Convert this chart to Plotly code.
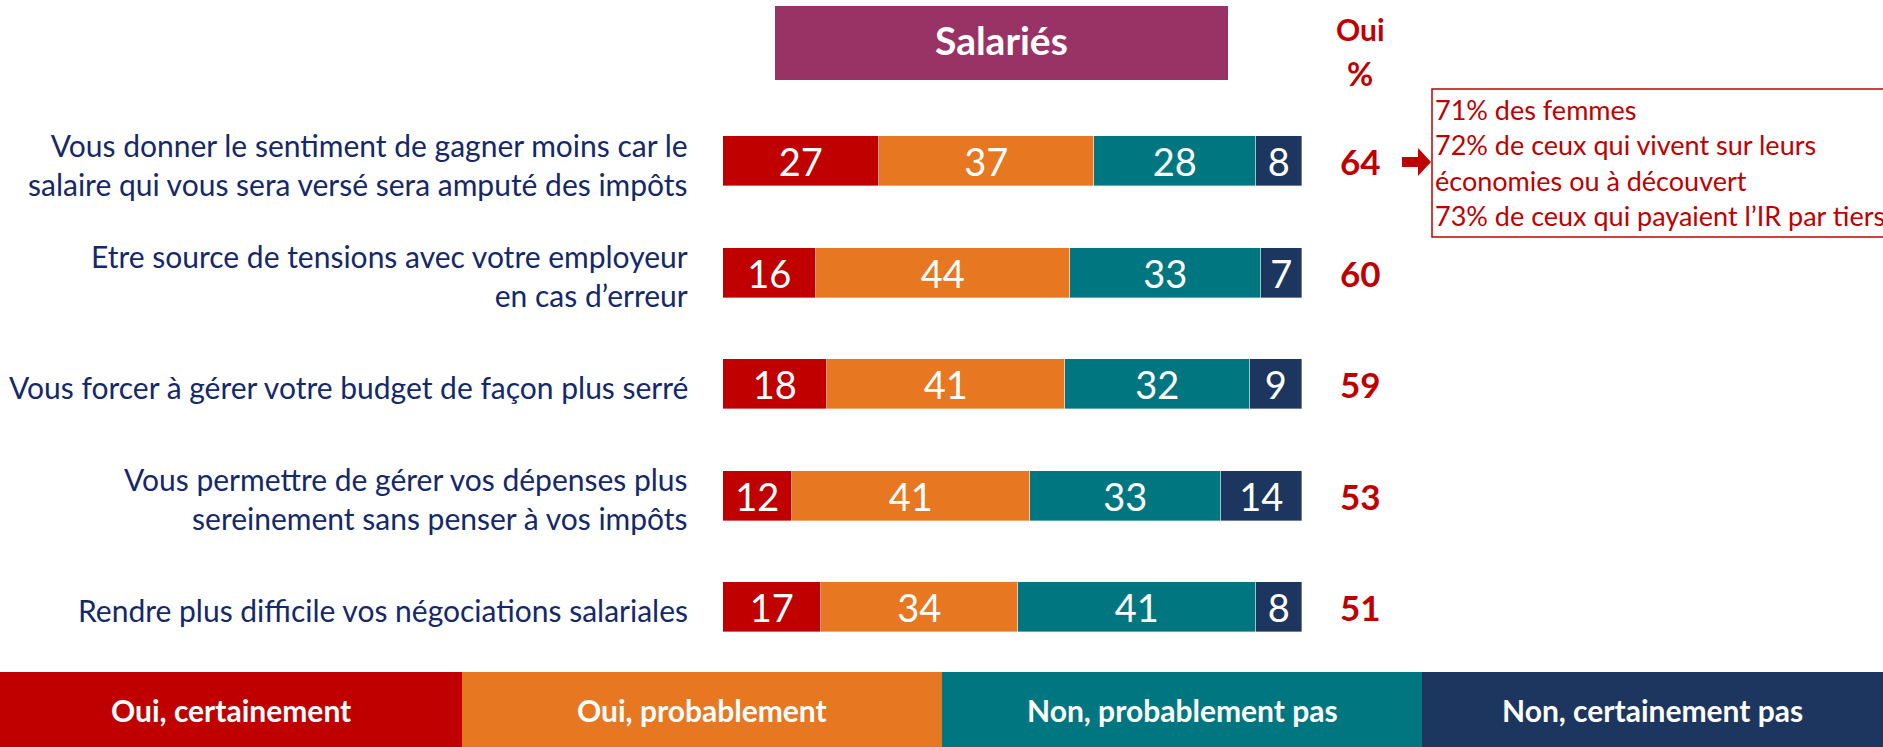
import plotly.graph_objects as go

W, H = 1883, 747

# ---------------- data ----------------
categories = [
    "Vous donner le sentiment de gagner moins car le<br>salaire qui vous sera versé sera amputé des impôts",
    "Etre source de tensions avec votre employeur<br>en cas d’erreur",
    "Vous forcer à gérer votre budget de façon plus serré",
    "Vous permettre de gérer vos dépenses plus<br>sereinement sans penser à vos impôts",
    "Rendre plus difficile vos négociations salariales",
]
series_names = ["Oui, certainement", "Oui, probablement", "Non, probablement pas", "Non, certainement pas"]
oui_certainement = [27, 16, 18, 12, 17]
oui_probablement = [37, 44, 41, 41, 34]
non_probablement = [28, 33, 32, 33, 41]
non_certainement = [8, 7, 9, 14, 8]
series_values = [oui_certainement, oui_probablement, non_probablement, non_certainement]
colors = ["#C00000", "#E87722", "#007780", "#1D365F"]

title_text = "Salariés"
callout_lines = [
    "71% des femmes",
    "72% de ceux qui vivent sur leurs",
    "économies ou à découvert",
    "73% de ceux qui payaient l’IR par tiers",
]

# ---------------- helpers ----------------
def px(x):
    return x / W

def py(y):
    return 1 - y / H

FONT = "Lato, 'Open Sans', sans-serif"
NAVY_TXT = "#14286B"
RED = "#C00000"

rows = list(range(len(categories)))
row0, step = 161.0, 111.5
y_top = -row0 / step
y_bot = (H - row0) / step

fig = go.Figure()
for name, vals, col in zip(series_names, series_values, colors):
    fig.add_trace(go.Bar(
        orientation="h", x=vals, y=rows, name=name,
        marker=dict(color=col, line=dict(color="rgba(255,255,255,0.6)", width=0.6)),
        width=50 / step,
        text=[str(v) for v in vals], textposition="inside", insidetextanchor="middle",
        constraintext="none", textangle=0,
        textfont=dict(family=FONT, size=38, color="white"),
        hoverinfo="skip", showlegend=False,
    ))

annotations = []
shapes = []

# category labels
for i, lab in zip(rows, categories):
    annotations.append(dict(
        x=px(690), xref="paper", y=i + 0.03, yref="y", xanchor="right", yanchor="middle",
        text=lab, align="right", showarrow=False,
        font=dict(family=FONT, size=30, color=NAVY_TXT),
    ))

# totals (Oui %)
totals = [a + b for a, b in zip(oui_certainement, oui_probablement)]
for i, t in zip(rows, totals):
    annotations.append(dict(
        x=px(1360), xref="paper", y=i, yref="y", xanchor="center", yanchor="middle",
        text="<b>%d</b>" % t, showarrow=False,
        font=dict(family=FONT, size=35, color=RED),
    ))

# header "Oui %"
annotations.append(dict(x=px(1360), y=py(29), xref="paper", yref="paper", text="<b>Oui</b>",
                        showarrow=False, xanchor="center", yanchor="middle",
                        font=dict(family=FONT, size=30, color=RED)))
annotations.append(dict(x=px(1360), y=py(73), xref="paper", yref="paper", text="<b>%</b>",
                        showarrow=False, xanchor="center", yanchor="middle",
                        font=dict(family=FONT, size=32, color=RED)))

# title box
shapes.append(dict(type="rect", xref="paper", yref="paper",
                   x0=px(775), x1=px(1228), y0=py(80), y1=py(6),
                   fillcolor="#993366", line=dict(width=0), layer="below"))
annotations.append(dict(x=px(1001), y=py(40), xref="paper", yref="paper",
                        text="<b>%s</b>" % title_text, showarrow=False,
                        xanchor="center", yanchor="middle",
                        font=dict(family=FONT, size=39, color="white")))

# arrow
pts = [(1402, 157), (1418, 157), (1418, 148), (1431, 162), (1418, 176), (1418, 167), (1402, 167)]
path = "M " + " L ".join("%f,%f" % (px(a), py(b)) for a, b in pts) + " Z"
shapes.append(dict(type="path", xref="paper", yref="paper", path=path,
                   fillcolor=RED, line=dict(width=0)))

# callout box
shapes.append(dict(type="rect", xref="paper", yref="paper",
                   x0=px(1432), x1=px(1930), y0=py(237), y1=py(89),
                   fillcolor="rgba(0,0,0,0)", line=dict(color=RED, width=1.5)))
for k, line in enumerate(callout_lines):
    annotations.append(dict(x=px(1433), y=py(109 + 35.5 * k), xref="paper", yref="paper",
                            text=line, showarrow=False, xanchor="left", yanchor="middle",
                            font=dict(family=FONT, size=27, color=RED)))

# bottom legend band
bounds = [0, 462, 942, 1422, W]
for k, (name, col) in enumerate(zip(series_names, colors)):
    shapes.append(dict(type="rect", xref="paper", yref="paper",
                       x0=px(bounds[k]), x1=px(bounds[k + 1]), y0=0, y1=py(672),
                       fillcolor=col, line=dict(width=0)))
    annotations.append(dict(x=px((bounds[k] + bounds[k + 1]) / 2), y=py(710),
                            xref="paper", yref="paper", text="<b>%s</b>" % name,
                            showarrow=False, xanchor="center", yanchor="middle",
                            font=dict(family=FONT, size=30, color="white")))

fig.update_layout(
    width=W, height=H, margin=dict(l=0, r=0, t=0, b=0),
    paper_bgcolor="white", plot_bgcolor="white",
    barmode="stack", bargap=0,
    xaxis=dict(domain=[px(723), px(1302)], range=[0, 100], visible=False, fixedrange=True),
    yaxis=dict(domain=[0, 1], range=[y_bot, y_top], visible=False, fixedrange=True),
    shapes=shapes, annotations=annotations,
    showlegend=False,
)

fig.write_html("out.html", config={"displayModeBar": False},
               post_script="document.body.style.margin='0';document.body.style.overflow='hidden';")
